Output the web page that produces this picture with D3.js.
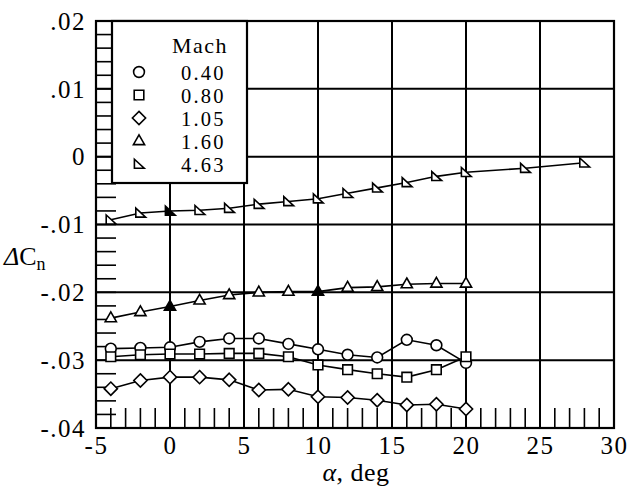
<!DOCTYPE html>
<html>
<head>
<meta charset="utf-8">
<script src="https://cdn.jsdelivr.net/npm/d3@7"></script>
<style>
  html, body { margin: 0; padding: 0; background: #fff; }
  svg { display: block; }
  svg text { font-family: "Liberation Serif", "DejaVu Serif", serif; fill: #000; }
</style>
</head>
<body>
<svg id="chart" width="628" height="492"></svg>
<script>
// Angle of attack (deg) at which each run was measured
const alphaLow  = [-4, -2, 0, 2, 4, 6, 8, 10, 12, 14, 16, 18, 20];
const alphaHigh = [-4, -2, 0, 2, 4, 6, 8, 10, 12, 14, 16, 18, 20, 24, 28];

// Yawing-moment increment, one list per Mach number
const cnMach040 = [-0.0283, -0.0282, -0.0281, -0.0273, -0.0268, -0.0268, -0.0276, -0.0284, -0.0292, -0.0296, -0.0270, -0.0278, -0.0304];
const cnMach080 = [-0.0295, -0.0292, -0.0291, -0.0291, -0.0290, -0.0290, -0.0295, -0.0307, -0.0314, -0.0320, -0.0325, -0.0314, -0.0295];
const cnMach105 = [-0.0342, -0.0330, -0.0325, -0.0325, -0.0329, -0.0344, -0.0343, -0.0354, -0.0355, -0.0359, -0.0366, -0.0365, -0.0372];
const cnMach160 = [-0.0238, -0.0229, -0.0221, -0.0212, -0.0204, -0.0200, -0.0199, -0.0199, -0.0193, -0.0192, -0.0188, -0.0187, -0.0187];
const cnMach463 = [-0.0093, -0.0083, -0.0080, -0.0079, -0.0076, -0.0070, -0.0066, -0.0062, -0.0054, -0.0046, -0.0038, -0.0029, -0.0023, -0.0017, -0.0009];

// Points plotted with solid symbols (alpha values) per series
const solidMach160 = [0, 10];
const solidMach463 = [0];

const machLabels = ["0.40", "0.80", "1.05", "1.60", "4.63"];
const xTickValues = [-5, 0, 5, 10, 15, 20, 25, 30];
const yTickValues = [0.02, 0.01, 0, -0.01, -0.02, -0.03, -0.04];
const yTickLabels = [".02", ".01", "0", "-.01", "-.02", "-.03", "-.04"];

const series = [
  { label: machLabels[0], alpha: alphaLow,  cn: cnMach040, shape: "circle",  solid: [] },
  { label: machLabels[1], alpha: alphaLow,  cn: cnMach080, shape: "square",  solid: [] },
  { label: machLabels[2], alpha: alphaLow,  cn: cnMach105, shape: "diamond", solid: [] },
  { label: machLabels[3], alpha: alphaLow,  cn: cnMach160, shape: "triangle", solid: solidMach160 },
  { label: machLabels[4], alpha: alphaHigh, cn: cnMach463, shape: "flag",    solid: solidMach463 }
];

const FONT = "'Liberation Serif', 'DejaVu Serif', serif";
const svg = d3.select("#chart");
svg.append("rect").attr("width", 628).attr("height", 492).attr("fill", "#fff");

const x = d3.scaleLinear().domain([-5, 30]).range([96, 614]);
const y = d3.scaleLinear().domain([-0.04, 0.02]).range([428, 21]);

const [x0, x1] = x.range();
const [y0, y1] = y.range();

// marker path generators, centred on (0,0)
function markerPath(shape) {
  switch (shape) {
    case "circle":  return d3.symbol(d3.symbolCircle, Math.PI * 5.4 * 5.4)();
    case "square":  return "M-4.8,-4.8H4.8V4.8H-4.8Z";
    case "diamond": return "M0,-6.6L6.6,0L0,6.6L-6.6,0Z";
    case "triangle":return "M0,-6.2L5.6,3.6L-5.6,3.6Z";
    case "flag":    return "M-4.6,-4.8L-4.6,4.2L5.2,4.2Z";
  }
}

// minor ticks along the bottom edge (every 1 deg)
const g = svg.append("g");
g.selectAll("line.xminor")
  .data(d3.range(-5, 31, 1))
  .join("line")
  .attr("x1", d => x(d)).attr("x2", d => x(d))
  .attr("y1", y0).attr("y2", y0 - 20)
  .attr("stroke", "#000").attr("stroke-width", 1.6);

// minor ticks along the left edge (every .002)
g.selectAll("line.yminor")
  .data(d3.range(-20, 11, 1).map(i => i * 0.002))
  .join("line")
  .attr("x1", x0).attr("x2", x0 + 20)
  .attr("y1", d => y(d)).attr("y2", d => y(d))
  .attr("stroke", "#000").attr("stroke-width", 1.6);

// grid
g.selectAll("line.vgrid")
  .data([0, 5, 10, 15, 20, 25])
  .join("line")
  .attr("x1", d => x(d)).attr("x2", d => x(d))
  .attr("y1", y0).attr("y2", y1)
  .attr("stroke", "#000").attr("stroke-width", 2);
g.selectAll("line.hgrid")
  .data([0.01, 0, -0.01, -0.02, -0.03])
  .join("line")
  .attr("x1", x0).attr("x2", x1)
  .attr("y1", d => y(d)).attr("y2", d => y(d))
  .attr("stroke", "#000").attr("stroke-width", 2);

// data lines and markers
const line = d3.line().x(d => x(d[0])).y(d => y(d[1]));
series.forEach(s => {
  const pts = s.alpha.map((a, i) => [a, s.cn[i]]);
  svg.append("path")
    .attr("d", line(pts))
    .attr("fill", "none").attr("stroke", "#000").attr("stroke-width", 1.6);
  svg.append("g").selectAll("path")
    .data(pts)
    .join("path")
    .attr("d", markerPath(s.shape))
    .attr("transform", d => `translate(${x(d[0])},${y(d[1])})`)
    .attr("fill", d => s.solid.includes(d[0]) ? "#000" : "#fff")
    .attr("stroke", "#000").attr("stroke-width", 1.6);
});

// frame
svg.append("rect")
  .attr("x", x0).attr("y", y1)
  .attr("width", x1 - x0).attr("height", y0 - y1)
  .attr("fill", "none").attr("stroke", "#000").attr("stroke-width", 2.2);

// tick labels via d3 axes (no tick marks drawn by the axes themselves)
const xAxis = d3.axisBottom(x).tickValues(xTickValues).tickSize(0).tickPadding(0)
  .tickFormat(d => String(d));
const gx = svg.append("g").attr("transform", `translate(0,${y0 + 17})`).call(xAxis)
  .attr("font-family", FONT).attr("font-size", 25);
gx.select(".domain").remove();
gx.selectAll("text").attr("dy", "0.36em").attr("letter-spacing", 1.5);

const yAxis = d3.axisLeft(y).tickValues(yTickValues).tickSize(0).tickPadding(0)
  .tickFormat((d, i) => yTickLabels[i]);
const gy = svg.append("g").attr("transform", `translate(${x0 - 10},0)`).call(yAxis)
  .attr("font-family", FONT).attr("font-size", 25);
gy.select(".domain").remove();
gy.selectAll("text").attr("dy", "0.33em").attr("letter-spacing", 1.5);

// axis titles
const xt = svg.append("text")
  .attr("x", 356).attr("y", 481)
  .attr("text-anchor", "middle").attr("font-size", 26).attr("font-family", FONT)
  .attr("letter-spacing", 0.5);
xt.append("tspan").attr("font-style", "italic").text("α");
xt.append("tspan").text(", deg");

const yt = svg.append("text").attr("x", 4).attr("y", 265).attr("font-size", 26).attr("font-family", FONT);
yt.append("tspan").attr("font-style", "italic").text("Δ");
yt.append("tspan").text("C");
yt.append("tspan").attr("font-size", 18).attr("dy", 5).text("n");

// legend
const lg = svg.append("g");
lg.append("rect")
  .attr("x", 112).attr("y", y1).attr("width", 135).attr("height", 162)
  .attr("fill", "#fff").attr("stroke", "#000").attr("stroke-width", 2.2);
lg.append("text").attr("x", 172).attr("y", 53).attr("font-size", 22).attr("font-family", FONT)
  .attr("letter-spacing", 1.5).text("Mach");
series.forEach((s, i) => {
  const cy = 72 + i * 23;
  lg.append("path")
    .attr("d", markerPath(s.shape))
    .attr("transform", `translate(139,${cy})`)
    .attr("fill", "#fff").attr("stroke", "#000").attr("stroke-width", 1.6);
  lg.append("text").attr("x", 181).attr("y", cy + 7.5).attr("font-size", 20.5).attr("font-family", FONT)
    .attr("letter-spacing", 2.2).text(s.label);
});
</script>
</body>
</html>
